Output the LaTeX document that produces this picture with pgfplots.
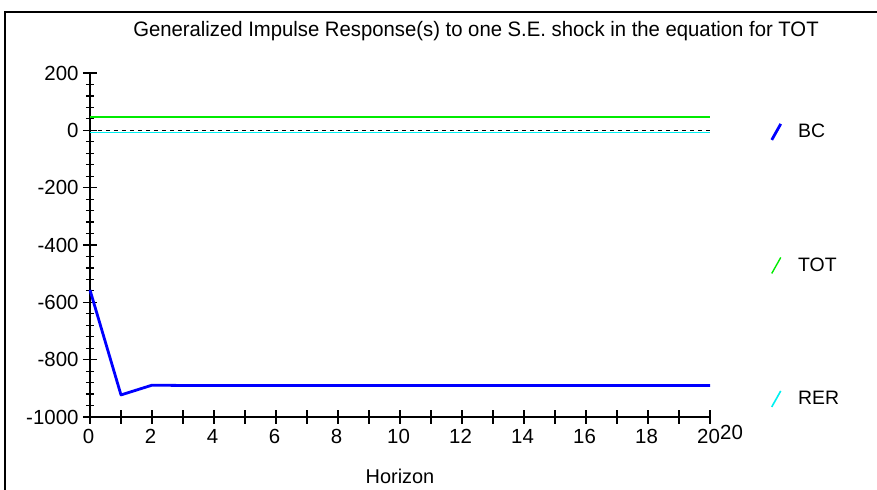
\documentclass[border=0pt]{standalone}
\usepackage{pgfplots}
\pgfplotsset{compat=1.18}
\usepackage{fontspec}
\setmainfont{Liberation Sans}
\newfontfamily\titlefont[FakeStretch=0.97]{Liberation Sans}
\definecolor{bcblue}{RGB}{0,0,255}
\definecolor{totgreen}{RGB}{0,235,0}
\definecolor{rercyan}{RGB}{0,240,240}
\pgfplotstableread{
x bc tot rer zero
0 -557 46 -7 0
1 -923 46 -7 0
2 -889 46 -7 0
3 -890 46 -7 0
4 -890 46 -7 0
5 -890 46 -7 0
6 -890 46 -7 0
7 -890 46 -7 0
8 -890 46 -7 0
9 -890 46 -7 0
10 -890 46 -7 0
11 -890 46 -7 0
12 -890 46 -7 0
13 -890 46 -7 0
14 -890 46 -7 0
15 -890 46 -7 0
16 -890 46 -7 0
17 -890 46 -7 0
18 -890 46 -7 0
19 -890 46 -7 0
20 -890 46 -7 0
}\irf
\begin{document}
\begin{tikzpicture}[x=1bp,y=1bp]
% page bounds (877 x 490 px), axis origin at pixel (90,417)
\path[use as bounding box] (-90,-73) rectangle (787,417);
\draw[line width=1.2bp] (-85,-80) -- (-85,405) -- (800,405);
\begin{axis}[
  at={(0,0)}, anchor=south west,
  scale only axis, width=620bp, height=344bp,
  xmin=0, xmax=20, ymin=-1000, ymax=200,
  axis x line=bottom, axis y line=left,
  axis line style={line width=1.4bp, -},
  xtick={0,1,...,20},
  xticklabels={0,,2,,4,,6,,8,,10,,12,,14,,16,,18,,20},
  ytick={-1000,-800,...,200},
  minor y tick num=4,
  tick align=center,
  major tick length=14bp, minor tick length=8bp,
  x tick style={line width=1.2bp, black},
  y tick style={line width=1.2bp, black},
  ticklabel style={font=\fontsize{20.5}{23}\selectfont},
  /pgf/number format/assume math mode=true,
  /pgf/number format/1000 sep={},
  yticklabel style={xshift=-1bp},
  xticklabel style={yshift=-2bp, xshift=-1.5bp},
  xlabel={Horizon},
  xlabel style={font=\fontsize{20}{23}\selectfont, yshift=-18bp},
  clip=false,
  legend cell align=left,
  legend style={draw=none, fill=none, at={(1.097,0.857)}, anchor=north west,
    font=\fontsize{19.5}{22}\selectfont, row sep=114.5bp, inner sep=0pt},
  legend image code/.code={\draw[#1] (0bp,-8bp) -- (9bp,8bp);},
]
\addplot[bcblue, line width=2.8bp, line join=round] table[x=x,y=bc] {\irf};
\addlegendentry{\hspace{14bp}BC}
\addplot[totgreen, line width=1.4bp] table[x=x,y=tot] {\irf};
\addlegendentry{\hspace{14bp}TOT}
\addplot[rercyan, line width=1.6bp] table[x=x,y=rer] {\irf};
\addlegendentry{\hspace{14bp}RER}
\addplot[black, line width=1.4bp, dash pattern=on 4bp off 4bp, forget plot] table[x=x,y=zero] {\irf};
\node[font=\fontsize{20.5}{23}\selectfont, anchor=north west, inner sep=0pt] at (rel axis cs:1,0) [xshift=10bp,yshift=-8bp] {20};
\end{axis}
\node[font=\titlefont\fontsize{21}{24}\selectfont] at (386,386) {Generalized Impulse Response(s) to one S.E. shock in the equation for TOT};
\end{tikzpicture}
\end{document}
